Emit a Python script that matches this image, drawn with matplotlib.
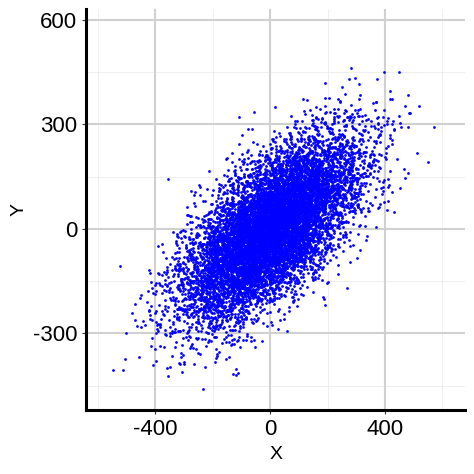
"""Scatter of a correlated X/Y cloud, ggplot-like minimal theme."""

import matplotlib

matplotlib.use("Agg")
import matplotlib.pyplot as plt
import numpy as np

plt.rcParams["font.family"] = ["Liberation Sans", "DejaVu Sans"]

# The cloud is ~10,000 points and can't be read off one by one, so it is
# rebuilt from summary statistics.
N_POINTS = 10000
MEANS = [0.0, 0.0]
SD_X = 150.0
SD_Y = 130.0
CORR = 0.65

X_TICKS = [-400, 0, 400]
Y_TICKS = [-300, 0, 300, 600]
X_MINOR = [-600, -200, 200, 600]
Y_MINOR = [-450, -150, 150, 450]

cov = [[SD_X**2, CORR * SD_X * SD_Y], [CORR * SD_X * SD_Y, SD_Y**2]]
rng = np.random.default_rng(7)
pts = rng.multivariate_normal(MEANS, cov, size=N_POINTS)
x, y = pts[:, 0], pts[:, 1]

fig = plt.figure(figsize=(4.74, 4.74), dpi=100)
ax = fig.add_axes([0.182, 0.135, 0.8, 0.845])

for v in X_MINOR:
    ax.axvline(v, color="#ebebeb", lw=0.6, zorder=0)
for v in Y_MINOR:
    ax.axhline(v, color="#ebebeb", lw=0.6, zorder=0)
for v in X_TICKS:
    ax.axvline(v, color="#d0d0d0", lw=1.5, zorder=0)
for v in Y_TICKS:
    ax.axhline(v, color="#d0d0d0", lw=1.5, zorder=0)

ax.scatter(x, y, s=4, color="#0000ff", linewidths=0, zorder=2)

ax.set_xlim(-640, 680)
ax.set_ylim(-520, 630)
ax.set_xticks(X_TICKS)
ax.set_yticks(Y_TICKS)
ax.set_xticklabels([str(t) for t in X_TICKS], fontsize=16)
ax.set_yticklabels([str(t) for t in Y_TICKS], fontsize=16)
ax.tick_params(length=3, width=0.8, color="#333333")
ax.set_xlabel("X", fontsize=14)
ax.set_ylabel("Y", fontsize=14)

for side in ["top", "right"]:
    ax.spines[side].set_visible(False)
for side in ["left", "bottom"]:
    ax.spines[side].set_linewidth(2.2)
    ax.spines[side].set_color("black")

fig.savefig("out.png", dpi=100)
plt.close(fig)
